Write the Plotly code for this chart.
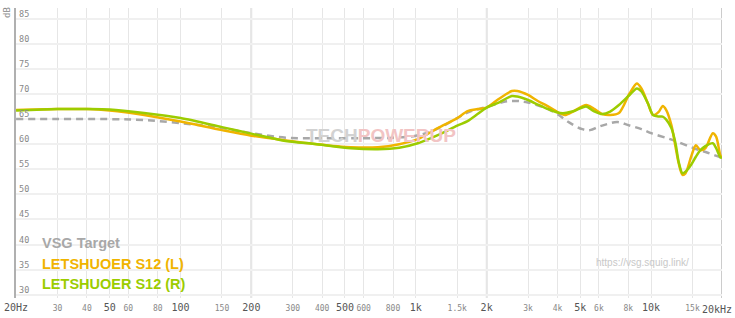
import plotly.graph_objects as go
import math

# ---------------- data ----------------
freq = [20, 30, 40, 50, 70, 100, 150, 200, 275, 380, 530, 690, 850, 1020, 1240, 1500,
        1660, 1830, 2000, 2250, 2560, 2700, 3000, 3300, 3600, 4000, 4300, 4700, 5300,
        5700, 6200, 6700, 7300, 8100, 8700, 9100, 9700, 10200, 10800, 11200, 11600,
        12200, 12700, 13100, 13600, 14000, 14800, 15500, 16200, 17000, 18300, 18900,
        19700, 20000]
left_db = [66.8, 67.0, 67.0, 66.7, 65.8, 64.5, 62.8, 61.7, 60.8, 60.0, 59.4, 59.4, 60.0,
           61.0, 63.2, 65.2, 66.6, 67.0, 67.3, 69.0, 70.6, 70.6, 69.8, 68.6, 67.7, 66.4,
           65.8, 66.6, 67.8, 67.1, 66.0, 65.8, 66.2, 70.1, 72.1, 71.1, 68.1, 65.8, 66.5,
           67.6, 66.8, 63.8, 59.5, 56.2, 53.9, 54.2, 57.5, 59.8, 58.8, 59.2, 62.2, 61.5,
           57.8, 57.3]
right_db = [66.7, 67.0, 67.0, 66.9, 66.2, 65.2, 63.4, 62.1, 60.7, 60.0, 59.2, 59.0, 59.3,
            60.2, 61.8, 63.7, 64.6, 66.0, 67.3, 68.3, 69.6, 69.5, 68.8, 67.9, 67.1, 66.3,
            66.2, 66.6, 67.5, 66.6, 66.0, 66.5, 67.8, 69.8, 71.1, 70.5, 68.1, 65.8, 65.5,
            65.5, 64.9, 63.2, 60.2, 56.5, 54.2, 54.5, 55.9, 57.5, 58.8, 59.6, 60.2, 59.2,
            57.4, 57.3]
target_freq = [20, 30, 50, 70, 100, 150, 200, 280, 400, 600, 800, 1000, 1200, 1500, 1700,
               2000, 2400, 2700, 3000, 3600, 4000, 4500, 5100, 5500, 6000, 6500, 7200, 8000,
               9100, 10000, 11700, 12900, 15200, 17400, 19700, 20000]
target_db = [65.0, 65.0, 65.0, 64.8, 64.2, 63.2, 62.2, 61.3, 61.2, 61.2, 61.3, 61.7, 62.8,
             65.2, 66.5, 67.4, 68.5, 68.6, 68.3, 67.1, 66.0, 64.3, 63.0, 62.8, 63.5, 64.0,
             64.4, 63.8, 63.0, 62.2, 61.2, 60.5, 59.2, 58.3, 57.4, 57.3]

series_names = ["VSG Target", "LETSHUOER S12 (L)", "LETSHUOER S12 (R)"]
series_colors = ["#a8a8a8", "#f0b400", "#9ccc00"]

x_tick_vals = [20, 30, 40, 50, 60, 80, 100, 150, 200, 300, 400, 500, 600, 800, 1000, 1500,
               2000, 3000, 4000, 5000, 6000, 8000, 10000, 15000, 20000]
x_tick_text = ["20Hz", "30", "40", "50", "60", "80", "100", "150", "200", "300", "400", "500",
               "600", "800", "1k", "1.5k", "2k", "3k", "4k", "5k", "6k", "8k", "10k", "15k",
               "20kHz"]
x_big_labels = ["20Hz", "50", "100", "200", "500", "1k", "2k", "5k", "10k", "20kHz"]
x_major_lines = [200, 2000, 20000]
y_tick_vals = list(range(30, 90, 5))

# ---------------- figure ----------------
fig = go.Figure()
fig.add_trace(go.Scatter(x=target_freq, y=target_db, mode="lines", name=series_names[0],
                         line=dict(color=series_colors[0], width=2.5, dash="7px,5px", shape="spline")))
fig.add_trace(go.Scatter(x=freq, y=left_db, mode="lines", name=series_names[1],
                         line=dict(color=series_colors[1], width=2.5, shape="spline", smoothing=0.8)))
fig.add_trace(go.Scatter(x=freq, y=right_db, mode="lines", name=series_names[2],
                         line=dict(color=series_colors[2], width=2.5, shape="spline", smoothing=0.8)))

mono = "DejaVu Sans Mono"
big_style = "font-size:10px;fill:#555"
small_style = "font-size:8px;fill:#888"

ticktext = []
for t in x_tick_text:
    if t == x_tick_text[-1]:
        ticktext.append("")  # drawn as a right-aligned annotation below
    elif t in x_big_labels:
        ticktext.append(f"<span style='{big_style}'>{t}</span>")
    else:
        ticktext.append(f"<span style='{small_style}'>{t}</span>")

fig.update_layout(
    width=735, height=318,
    margin=dict(l=16, r=13, t=8, b=20, autoexpand=False),
    paper_bgcolor="white", plot_bgcolor="white",
    showlegend=False,
    xaxis=dict(type="log", range=[math.log10(19.98), math.log10(20020)],
               tickvals=x_tick_vals, ticktext=ticktext, tickangle=0, automargin=False,
               showgrid=True, gridcolor="#e6e6e6", gridwidth=1,
               zeroline=False, showline=False, ticks="", ticklabelstandoff=2,
               ticklabeloverflow="allow",
               tickfont=dict(family=mono, size=10, color="#666")),
    yaxis=dict(range=[29.36, 87.13], tickvals=y_tick_vals, automargin=False,
               showgrid=True, gridcolor="#f0f0f0", gridwidth=2,
               zeroline=False, showline=True, linecolor="#b0b0b0", linewidth=1.5,
               ticks="", ticklabelposition="inside", ticklabelshift=-5, ticklabelstandoff=2,
               ticklabeloverflow="allow",
               tickfont=dict(family=mono, size=8.5, color="#888")),
)

# last x tick label, kept inside the canvas
fig.add_annotation(text=x_tick_text[-1], xref="x", yref="paper",
                   x=math.log10(x_tick_vals[-1]), y=0, xanchor="right", yanchor="top",
                   xshift=12, yshift=-4, showarrow=False,
                   font=dict(family=mono, size=10, color="#555"))

for f in x_major_lines:
    fig.add_shape(type="line", xref="x", yref="paper", x0=f, x1=f, y0=0, y1=1,
                  line=dict(color="#c4c4c4", width=1.5), layer="below")

# dB label
fig.add_annotation(text="dB", xref="paper", yref="paper", x=-0.012, y=0.985, showarrow=False,
                   textangle=-90, font=dict(family=mono, size=9, color="#888"),
                   xanchor="center", yanchor="middle")

# legend labels
legend_y = [0.19, 0.117, 0.048]
for name, col, yy in zip(series_names, series_colors, legend_y):
    fig.add_annotation(text=f"<b>{name}</b>", xref="paper", yref="paper", x=0.034, y=yy,
                       xanchor="left", yanchor="middle", showarrow=False,
                       font=dict(family="Liberation Sans, Arial", size=14.5, color=col))

# watermarks
fig.add_annotation(text="<b><span style='fill:#d2d2d2'>TECH</span><span style='fill:#f2c4c4'>POWERUP</span></b>",
                   xref="paper", yref="paper", x=0.517, y=0.56, showarrow=False,
                   xanchor="center", yanchor="middle",
                   font=dict(family="Liberation Sans, Arial", size=19, color="#d2d2d2"))
fig.add_annotation(text="https://vsg.squig.link/", xref="paper", yref="paper", x=0.888, y=0.124,
                   showarrow=False, xanchor="center", yanchor="middle",
                   font=dict(family="Liberation Sans, Arial", size=10, color="#c8c8c8"))

fig.write_html("out.html")
